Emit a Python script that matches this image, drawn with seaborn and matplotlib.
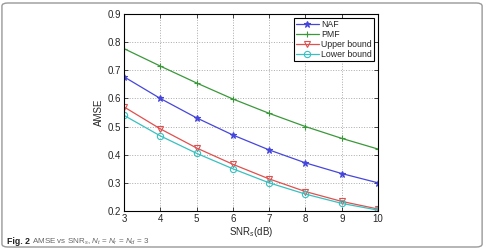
import pandas as pd
import matplotlib
matplotlib.use("Agg")
import matplotlib.pyplot as plt
from matplotlib.patches import FancyBboxPatch
import seaborn as sns

# Data
snr = [3, 4, 5, 6, 7, 8, 9, 10]
naf = [0.677, 0.600, 0.531, 0.470, 0.417, 0.371, 0.333, 0.300]
pmf = [0.777, 0.715, 0.655, 0.598, 0.547, 0.500, 0.458, 0.420]
upper = [0.570, 0.492, 0.424, 0.366, 0.314, 0.269, 0.234, 0.207]
lower = [0.540, 0.467, 0.405, 0.350, 0.300, 0.260, 0.227, 0.203]

names = ['NAF', 'PMF', 'Upper bound', 'Lower bound']
series = [naf, pmf, upper, lower]

dfs = []
for name, vals in zip(names, series):
    dfs.append(pd.DataFrame({'SNR': snr, 'AMSE': vals, 'Method': name}))
df = pd.concat(dfs, ignore_index=True)

sns.set_style("ticks", {'axes.edgecolor': 'black',
                        'xtick.direction': 'in',
                        'ytick.direction': 'in'})
plt.rcParams['font.family'] = ['Liberation Sans', 'DejaVu Sans']
plt.rcParams['mathtext.fontset'] = 'custom'
plt.rcParams['mathtext.rm'] = 'Liberation Sans'
plt.rcParams['mathtext.it'] = 'Liberation Sans:italic'

colors = ['#4646dc', '#3a983a', '#e0504e', '#38c0c0']
markers = ['*', '+', 'v', 'o']
fills = [None, None, 'none', 'none']

fig = plt.figure(figsize=(4.86, 2.5), dpi=100)
ax = fig.add_axes([0.255, 0.156, 0.523, 0.788])

for name, col, mk, mf in zip(names, colors, markers, fills):
    kw = dict(marker=mk, markersize=4.5, linewidth=0.9, color=col,
              markeredgecolor=col, markeredgewidth=0.8)
    kw['markerfacecolor'] = col if mf is None else mf
    sns.lineplot(data=df[df['Method'] == name], x='SNR', y='AMSE',
                 ax=ax, label=name, **kw)

ax.set_xlim(3, 10)
ax.set_ylim(0.2, 0.9)
ax.set_xticks(snr)
ax.set_yticks([0.2, 0.3, 0.4, 0.5, 0.6, 0.7, 0.8, 0.9])
ax.set_yticklabels(['0.2', '0.3', '0.4', '0.5', '0.6', '0.7', '0.8', '0.9'])
ax.grid(True, linestyle=':', color='#aaaaaa', linewidth=0.7)
ax.tick_params(labelsize=7, length=3, width=0.6, top=True, right=True,
               direction='in', pad=2)
for s in ax.spines.values():
    s.set_linewidth(0.8)
    s.set_visible(True)

ax.set_xlabel('SNR$_s$(dB)', fontsize=7, labelpad=1)
ax.set_ylabel('AMSE', fontsize=7, labelpad=3)

leg = ax.legend(loc='upper right', fontsize=6.3, frameon=True, fancybox=False,
                edgecolor='black', handlelength=2.6, borderpad=0.25,
                labelspacing=0.1, handletextpad=0.3, framealpha=1,
                bbox_to_anchor=(0.985, 0.98), borderaxespad=0)
leg.get_frame().set_linewidth(0.8)

# caption
fig.text(0.014, 0.026, 'Fig. 2', fontsize=6.3, fontweight='bold', color='#222222')
fig.text(0.066, 0.026, 'AMSE vs SNR$_s$, $N_t$ = $N_r$ = $N_d$ = 3',
         fontsize=5.8, color='#666666')

# page border
border = FancyBboxPatch((0.004, 0.012), 0.988, 0.976,
                        boxstyle="round,pad=0,rounding_size=0.012",
                        transform=fig.transFigure, fill=False,
                        edgecolor='#999999', linewidth=1.0)
fig.patches.append(border)

fig.savefig('out.png', dpi=100)
